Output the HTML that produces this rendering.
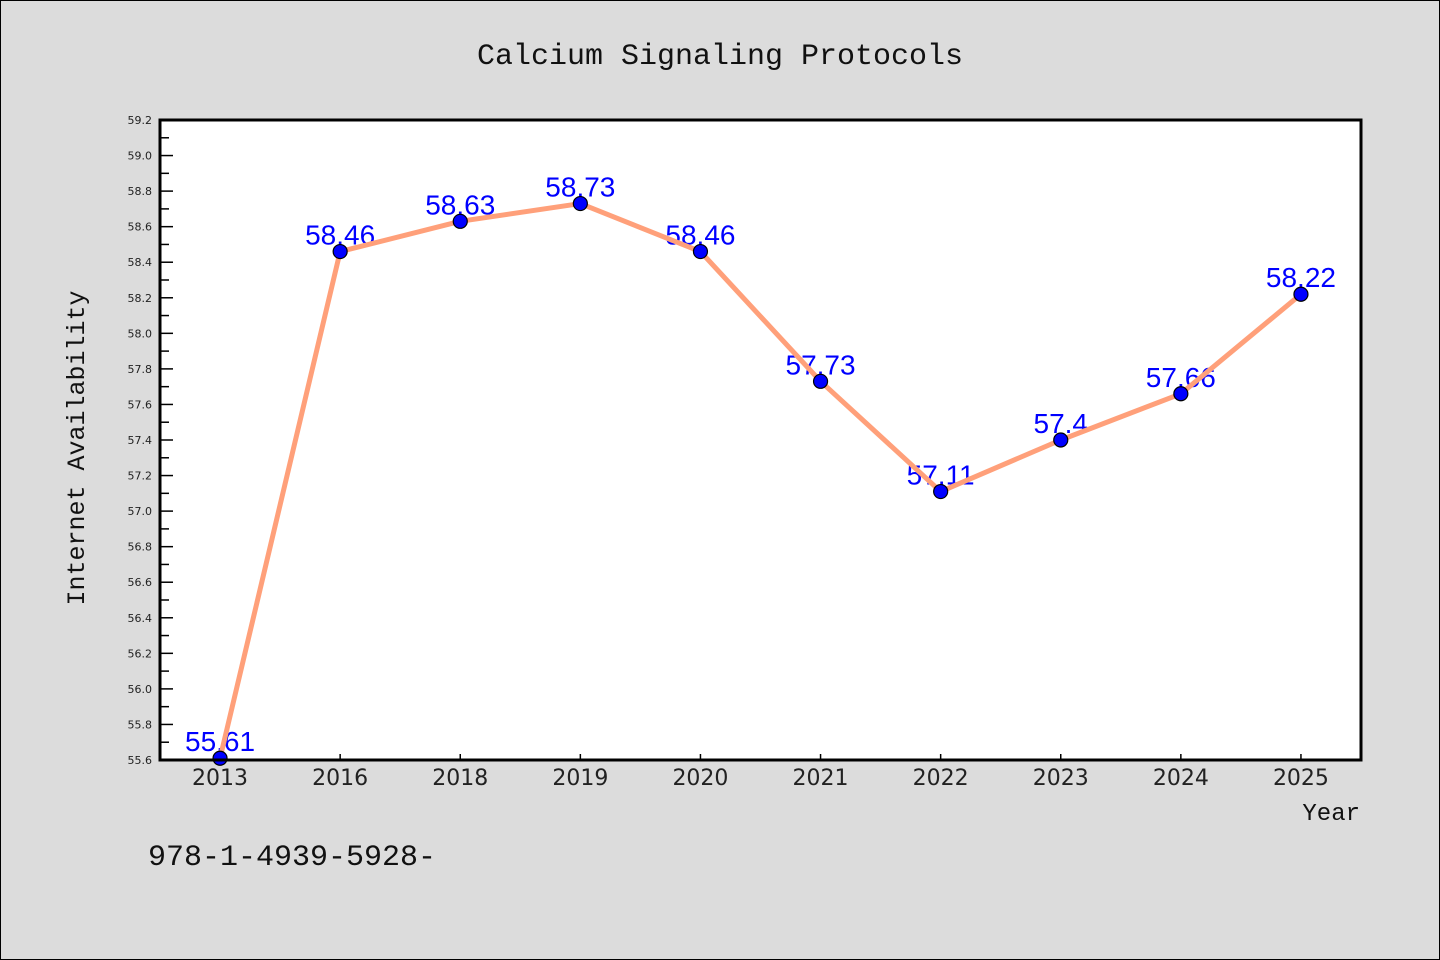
<!DOCTYPE html>
<html><head><meta charset="utf-8"><style>
html,body{margin:0;padding:0;background:#dcdcdc;}
svg{display:block;}
</style></head><body>
<svg width="1440" height="960" xmlns="http://www.w3.org/2000/svg">
<rect x="0.5" y="0.5" width="1439" height="959" fill="#dcdcdc" stroke="#000" stroke-width="1"/>
<text x="720" y="64" text-anchor="middle" font-family="Liberation Mono, monospace" font-size="30" fill="#111">Calcium Signaling Protocols</text>
<rect x="160" y="120" width="1201" height="640" fill="#fff"/>
<g id="yticks"></g>
<g id="xticks"></g>
<g id="labels"></g>
<g id="series"></g>
<rect x="160" y="120" width="1201" height="640" fill="none" stroke="#000" stroke-width="3"/>
<text transform="translate(84,448) rotate(-90)" text-anchor="middle" font-family="Liberation Mono, monospace" font-size="25" fill="#111">Internet Availability</text>
<text x="1360" y="820" text-anchor="end" font-family="Liberation Mono, monospace" font-size="24" fill="#111">Year</text>
<text x="148" y="865" font-family="Liberation Mono, monospace" font-size="30" fill="#111">978-1-4939-5928-</text>
</svg>
<script>
const categories = ["2013","2016","2018","2019","2020","2021","2022","2023","2024","2025"];
const values = [55.61,58.46,58.63,58.73,58.46,57.73,57.11,57.4,57.66,58.22];
const valueLabels = ["55.61","58.46","58.63","58.73","58.46","57.73","57.11","57.4","57.66","58.22"];
const yTicks = [55.6,55.8,56.0,56.2,56.4,56.6,56.8,57.0,57.2,57.4,57.6,57.8,58.0,58.2,58.4,58.6,58.8,59.0,59.2];

const NS="http://www.w3.org/2000/svg";
const L=160,R=1361,T=120,B=760,yMin=55.6,yMax=59.2;
const step=(R-L)/categories.length;
function xS(i){return L+step*(i+0.5);}
function yS(v){return B-(v-yMin)/(yMax-yMin)*(B-T);}
function mk(tag,a,p){const e=document.createElementNS(NS,tag);for(const k in a)e.setAttribute(k,a[k]);p.appendChild(e);return e;}

const yt=document.getElementById('yticks');
yTicks.forEach((v,i)=>{
  const y=yS(v);
  const ln=mk('line',{x1:L,x2:L+13,y1:y,y2:y,stroke:'#000','stroke-width':1.5},yt);
  
  
  const t=mk('text',{x:L-8,y:y+4,'text-anchor':'end','font-family':'DejaVu Sans, sans-serif','font-size':11,fill:'#222'},yt);
  t.textContent=v.toFixed(1);
  
  
  if(i<yTicks.length-1){
    const ym=yS(v+0.1);
    const m=mk('line',{x1:L,x2:L+9,y1:ym,y2:ym,stroke:'#000','stroke-width':1.5},yt);
    
    
  }
});
const xt=document.getElementById('xticks');
categories.forEach((c,i)=>{
  const x=xS(i);
  const ln=mk('line',{x1:x,x2:x,y1:B,y2:B-6,stroke:'#000','stroke-width':1.5},xt);
  
  
  const t=mk('text',{x:x,y:B+25,'text-anchor':'middle','font-family':'DejaVu Sans, sans-serif','font-size':22,fill:'#222'},xt);
  t.textContent=c;
  
  
});
const lb=document.getElementById('labels');
values.forEach((v,i)=>{
  const t=mk('text',{x:xS(i),y:yS(v)-7,'text-anchor':'middle','font-family':'Liberation Sans, sans-serif','font-size':28,fill:'#0000ff'},lb);
  t.textContent=valueLabels[i];
  
  
});
const sg=document.getElementById('series');
const pl=mk('polyline',{points:values.map((v,i)=>xS(i)+','+yS(v)).join(' '),fill:'none',stroke:'#ffa07a','stroke-width':5,'stroke-linejoin':'round'},sg);


values.forEach((v,i)=>{
  const c=mk('circle',{cx:xS(i),cy:yS(v),r:7,fill:'#0000ff',stroke:'#000','stroke-width':1.2},sg);
  
  
});
</script>
</body></html>
